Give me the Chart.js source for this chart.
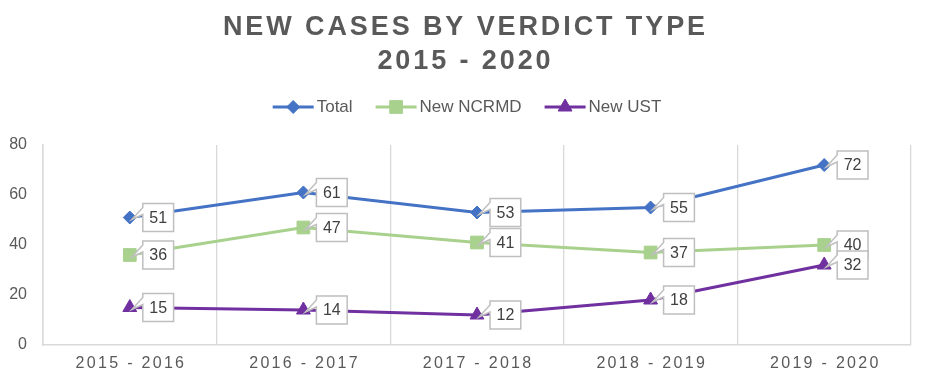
<!DOCTYPE html>
<html>
<head>
<meta charset="utf-8">
<script src="https://cdn.jsdelivr.net/npm/chart.js"></script>
<style>
    html, body { margin: 0; padding: 0; background: #fff; }
</style>
</head>
<body>
<canvas id="verdict-chart" width="926" height="381"></canvas>
<script>
// data
const categories = ["2015 - 2016", "2016 - 2017", "2017 - 2018", "2018 - 2019", "2019 - 2020"];
const totalCases = [51, 61, 53, 55, 72];
const ncrmdCases = [36, 47, 41, 37, 40];
const ustCases = [15, 14, 12, 18, 32];
const seriesNames = ["Total", "New NCRMD", "New UST"];
const titleLines = ["NEW CASES BY VERDICT TYPE", "2015 - 2020"];
const yMin = 0, yMax = 80, yStep = 20;

const FONT = "'Liberation Sans', Arial, sans-serif";
const textGray = "#595959";
const gridGray = "#d9d9d9";

function spacedText(ctx, text, x, y, spacing) {
    ctx.letterSpacing = spacing + "px";
    ctx.fillText(text, x + spacing / 2, y);
    ctx.letterSpacing = "0px";
}

// title, legend and x labels drawn by hand (letter spacing + line markers)
const decorations = {
    id: "decorations",
    afterDraw(chart) {
        const ctx = chart.ctx;
        ctx.save();
        ctx.fillStyle = textGray;
        ctx.textAlign = "center";
        ctx.textBaseline = "middle";

        ctx.font = "bold 27px " + FONT;
        spacedText(ctx, titleLines[0], 464, 28, 2.9);
        spacedText(ctx, titleLines[1], 464, 62, 2.9);

        // x labels
        ctx.font = "16px " + FONT;
        const xs = chart.scales.x;
        categories.forEach((c, i) => {
            spacedText(ctx, c, xs.getPixelForValue(i), 364, 2.3);
        });

        // legend
        ctx.font = "17px " + FONT;
        ctx.textAlign = "left";
        const lineW = 41, gap = 3, itemGap = 23, ly = 107;
        const items = chart.data.datasets.map((ds) => ({
            ds, w: lineW + gap + ctx.measureText(ds.label).width,
        }));
        const totalW = items.reduce((s, it) => s + it.w, 0) + itemGap * (items.length - 1);
        let x = 467 - totalW / 2;
        items.forEach(({ ds }) => {
            ctx.strokeStyle = ds.borderColor;
            ctx.lineWidth = 3;
            ctx.beginPath();
            ctx.moveTo(x, ly);
            ctx.lineTo(x + lineW, ly);
            ctx.stroke();
            ctx.fillStyle = ds.borderColor;
            ctx.lineWidth = 1;
            Chart.helpers.drawPoint(ctx, {
                pointStyle: ds.pointStyle, radius: ds.pointRadius, rotation: 0, borderWidth: 1,
            }, x + lineW / 2, ly);
            ctx.fillStyle = textGray;
            ctx.fillText(ds.label, x + lineW + gap, ly);
            x += lineW + gap + ctx.measureText(ds.label).width + itemGap;
        });
        ctx.restore();
    },
};

// callout value labels
const callouts = {
    id: "callouts",
    afterDatasetsDraw(chart) {
        const ctx = chart.ctx;
        ctx.save();
        ctx.font = "16px " + FONT;
        ctx.textAlign = "center";
        ctx.textBaseline = "middle";
        chart.data.datasets.forEach((ds, di) => {
            const meta = chart.getDatasetMeta(di);
            meta.data.forEach((pt, j) => {
                const txt = String(ds.data[j]);
                const w = ctx.measureText(txt).width + 13;
                const h = 28;
                const L = pt.x + 13, T = pt.y - h / 2;
                ctx.beginPath();
                ctx.moveTo(L, T);
                ctx.lineTo(L + w, T);
                ctx.lineTo(L + w, T + h);
                ctx.lineTo(L, T + h);
                ctx.lineTo(L, T + 11);
                ctx.lineTo(pt.x + 2, pt.y + 2);
                ctx.lineTo(L, T + 4);
                ctx.closePath();
                ctx.fillStyle = "#fff";
                ctx.fill();
                ctx.strokeStyle = "#bfbfbf";
                ctx.lineWidth = 1.5;
                ctx.stroke();
                ctx.fillStyle = "#404040";
                ctx.fillText(txt, L + w / 2, pt.y + 1);
            });
        });
        ctx.restore();
    },
};

function series(label, data, color, style, radius) {
    return {
        label, data,
        borderColor: color,
        backgroundColor: color,
        borderWidth: 3,
        pointStyle: style,
        pointRadius: radius,
        pointBorderWidth: 1,
        pointBackgroundColor: color,
        pointBorderColor: color,
        tension: 0,
    };
}

new Chart(document.getElementById("verdict-chart"), {
    type: "line",
    data: {
        labels: categories,
        datasets: [
            series(seriesNames[0], totalCases, "#4472c4", "rectRot", 6.5),
            series(seriesNames[1], ncrmdCases, "#a9d18e", "rect", 9),
            series(seriesNames[2], ustCases, "#7030a0", "triangle", 8),
        ],
    },
    options: {
        responsive: false,
        animation: false,
        layout: { padding: { top: 145, right: 15, left: 0, bottom: 0 } },
        plugins: {
            legend: { display: false },
            title: { display: false },
            tooltip: { enabled: false },
        },
        scales: {
            x: {
                offset: true,
                grid: { display: true, offset: true, color: gridGray, lineWidth: 1.3, drawTicks: false },
                border: { display: true, color: gridGray, width: 1.5 },
                ticks: { display: false },
                afterFit: (s) => { s.height = 36; },
            },
            y: {
                min: yMin,
                max: yMax,
                grid: { display: false, drawTicks: false },
                border: { display: true, color: gridGray, width: 1.5 },
                ticks: {
                    stepSize: yStep,
                    padding: 16,
                    color: textGray,
                    font: { family: FONT, size: 16 },
                },
                afterFit: (s) => { s.width = 43; },
            },
        },
    },
    plugins: [callouts, decorations],
});
</script>
</body>
</html>
